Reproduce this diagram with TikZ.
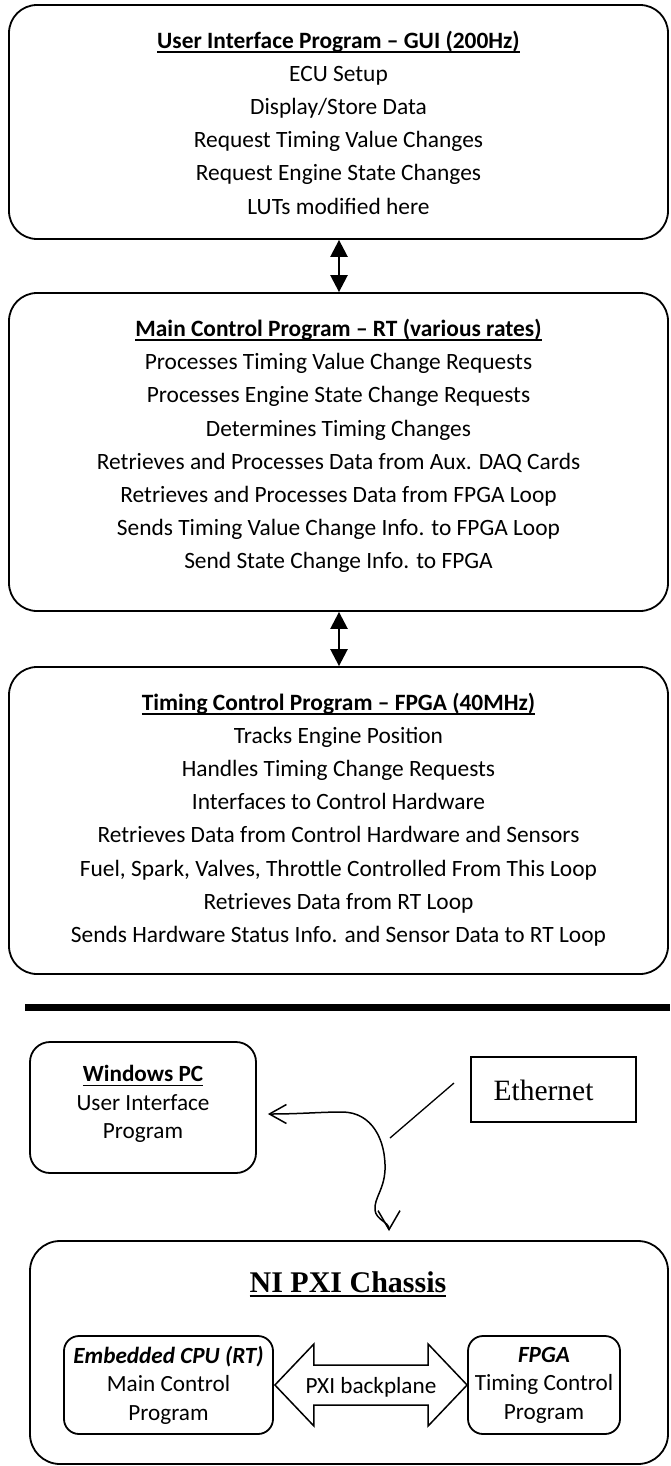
\documentclass[tikz,border=0pt]{standalone}
\usepackage{fontspec}
\setmainfont{Carlito}
\newfontfamily\timesf{Liberation Serif}
\usetikzlibrary{arrows.meta}
\newcommand\ulx[1]{\leavevmode\setbox0=\hbox{#1}\rlap{\vrule height -3pt depth 4.6pt width \wd0}\box0}
\tikzset{
  bigbox/.style={draw, line width=1.8pt, rounded corners=28pt, minimum width=659pt, inner sep=0pt},
  smallbox/.style={draw, line width=1.8pt, rounded corners=#1, inner sep=0pt},
  txt/.style={align=center, inner sep=0pt, font=\fontsize{23.4}{33.2}\selectfont},
  stxt/.style={align=center, inner sep=0pt, font=\fontsize{23.2}{28.5}\selectfont},
  link/.style={line width=2.5pt, {Triangle[length=17pt,width=17pt]}-{Triangle[length=17pt,width=17pt]}},
  cable/.style={line width=1.5pt, {Straight Barb[length=17pt,width=19pt]}-{Straight Barb[length=19pt,width=22pt]}},
  bparrow/.style={draw, line width=1.5pt, line join=miter}
}
\begin{document}
\begin{tikzpicture}[x=1pt,y=-1pt]
\useasboundingbox (0,0) rectangle (670,1466);
% upper three program boxes
\node[bigbox, minimum height=234pt] (gui) at (338.5,122) {};
\node[bigbox, minimum height=318pt] (rt) at (338.5,452) {};
\node[bigbox, minimum height=307pt] (loop) at (338.5,820.5) {};
\node[txt] (guitext) at (338.5,122.5) {\ulx{\textbf{User Interface Program – GUI (200Hz)}}\\ECU Setup\\Display/Store Data\\Request Timing Value Changes\\Request Engine State Changes\\LUTs modified here};
\node[txt] (rttext) at (338.5,446) {\ulx{\textbf{Main Control Program – RT (various rates)}}\\Processes Timing Value Change Requests\\Processes Engine State Change Requests\\Determines Timing Changes\\Retrieves and Processes Data from Aux. DAQ Cards\\Retrieves and Processes Data from FPGA Loop\\Sends Timing Value Change Info. to FPGA Loop\\Send State Change Info. to FPGA};
\node[txt] (looptext) at (338.5,819.5) {\ulx{\textbf{Timing Control Program – FPGA (40MHz)}}\\Tracks Engine Position\\Handles Timing Change Requests\\Interfaces to Control Hardware\\Retrieves Data from Control Hardware and Sensors\\Fuel, Spark, Valves, Throttle Controlled From This Loop\\Retrieves Data from RT Loop\\Sends Hardware Status Info. and Sensor Data to RT Loop};
\draw[link] ([xshift=0.5pt]gui.south) -- ([xshift=0.5pt]rt.north);
\draw[link] ([xshift=0.5pt]rt.south) -- ([xshift=0.5pt]loop.north);
% separator
\draw[line width=7pt] (25,1007) -- (670,1007);
% hardware part
\node[smallbox=20pt, minimum width=226pt, minimum height=131pt] (pc) at (143,1107.5) {};
\node[stxt] (pctext) at (143,1104) {\ulx{\textbf{Windows PC}}\\User Interface\\Program};
\node[draw, line width=1.2pt, minimum width=165pt, minimum height=65pt, inner sep=0pt] (eth) at (553.5,1089.5) {};
\node[inner sep=0pt, font=\timesf\fontsize{29.5}{32}\selectfont] (ethtext) at (543.5,1090) {Ethernet};
\node[smallbox=30pt, minimum width=638pt, minimum height=223pt] (pxi) at (349,1352.5) {};
\node[inner sep=0pt, font=\timesf\bfseries\fontsize{30}{34}\selectfont] (pxititle) at (348,1284) {\ulx{NI PXI Chassis}};
\node[smallbox=15pt, minimum width=209pt, minimum height=98pt] (cpu) at (168.5,1385) {};
\node[stxt] (cputext) at (168.5,1385) {\textbf{\textit{Embedded CPU (RT)}}\\Main Control\\Program};
\node[smallbox=15pt, minimum width=152pt, minimum height=98pt] (fpga) at (544,1385) {};
\node[stxt] (fpgatext) at (544,1385) {\textbf{\textit{FPGA}}\\Timing Control\\Program};
\draw[bparrow] ([xshift=1pt]cpu.east) -- ([xshift=40pt,yshift=41pt]cpu.east) -- ([xshift=40pt,yshift=20pt]cpu.east)
  -- ([xshift=-39pt,yshift=20pt]fpga.west) -- ([xshift=-39pt,yshift=41pt]fpga.west) -- (fpga.west)
  -- ([xshift=-39pt,yshift=-41pt]fpga.west) -- ([xshift=-39pt,yshift=-20pt]fpga.west)
  -- ([xshift=40pt,yshift=-20pt]cpu.east) -- ([xshift=40pt,yshift=-41pt]cpu.east) -- cycle;
\node[inner sep=0pt, font=\fontsize{23.2}{25}\selectfont] (bptext) at (371,1387) {PXI backplane};
% cable
\coordinate (pcend) at ([xshift=11pt,yshift=-6.5pt]pc.east);
\coordinate (pxiend) at ([xshift=40pt,yshift=9pt]pxi.north);
\draw[cable] (pcend) .. controls (300,1114) and (320,1112) .. (342,1112)
  .. controls (372,1112) and (386,1140) .. (385,1170)
  .. controls (384,1190) and (374,1198) .. (375,1210)
  .. controls (376,1220) and (389,1222) .. (pxiend);
\coordinate (ethA) at (454,1083);
\coordinate (ethB) at (390,1138);
\draw[line width=1.3pt] (ethA) -- (ethB);
\end{tikzpicture}
\end{document}
